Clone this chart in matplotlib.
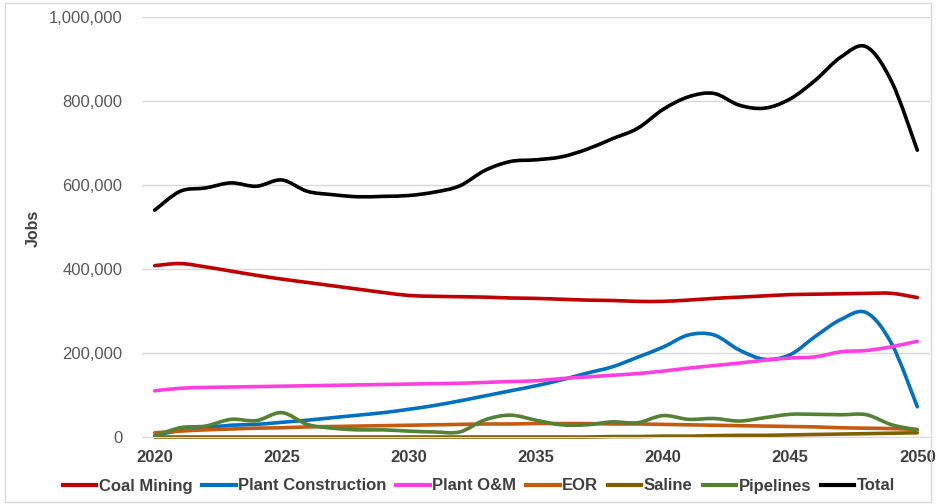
import matplotlib
matplotlib.use("Agg")
import matplotlib.pyplot as plt
from matplotlib.path import Path
from matplotlib.patches import PathPatch
from matplotlib.lines import Line2D
from matplotlib.ticker import FuncFormatter

years = list(range(2020, 2051))

# thousands of jobs
coal_mining = [408, 413, 405, 395, 385, 376, 368, 360, 352, 344, 337, 335, 334, 333, 331, 330,
               328, 326, 325, 323, 323, 326, 330, 333, 336, 339, 340, 341, 342, 342, 332]
plant_construction = [3, 16, 22, 28, 30, 35, 40, 46, 52, 58, 66, 75, 86, 98, 110, 122,
                      136, 152, 167, 190, 214, 243, 243, 207, 185, 196, 240, 280, 296, 221, 72]
plant_om = [110, 116, 118, 119, 120, 121, 122, 123, 124, 125, 126, 127, 128, 130, 132, 134,
            139, 143, 147, 151, 157, 164, 170, 176, 183, 188, 191, 203, 206, 215, 228]
eor = [10, 14, 17, 19, 21, 22, 24, 25, 26, 27, 28, 29, 30, 31, 31, 32,
       32, 32, 31, 31, 30, 29, 28, 27, 26, 25, 24, 22, 21, 20, 18]
saline = [0, 0, 0, 0, 0, 0, 0, 0, 0, 0, 0, 0, 0, 0, 0, 0,
          0, 0, 1, 1, 2, 2, 3, 4, 4, 5, 6, 7, 8, 9, 10]
pipelines = [2, 22, 26, 42, 39, 58, 30, 21, 17, 17, 14, 12, 12, 41, 52, 40,
             29, 29, 36, 34, 51, 42, 44, 38, 46, 54, 54, 53, 53, 29, 17]
total = [540, 585, 593, 605, 597, 612, 585, 577, 572, 573, 575, 583, 598, 635, 656, 660,
         667, 685, 710, 735, 780, 810, 818, 790, 783, 805, 850, 905, 929, 845, 683]

series = [
    ("Coal Mining", coal_mining, "#C00000"),
    ("Plant Construction", plant_construction, "#0070C0"),
    ("Plant O&M", plant_om, "#FF3FDF"),
    ("EOR", eor, "#C55A11"),
    ("Saline", saline, "#7F6000"),
    ("Pipelines", pipelines, "#548235"),
    ("Total", total, "#000000"),
]

font = ["Liberation Sans", "DejaVu Sans"]
LW = 2.6


def smooth_path(xs, ys):
    # Excel-style smoothed line: cubic Bezier segments through every data point
    n = len(xs)
    verts = [(xs[0], ys[0])]
    codes = [Path.MOVETO]
    for i in range(n - 1):
        x0, y0 = xs[max(i - 1, 0)], ys[max(i - 1, 0)]
        x1, y1 = xs[i], ys[i]
        x2, y2 = xs[i + 1], ys[i + 1]
        x3, y3 = xs[min(i + 2, n - 1)], ys[min(i + 2, n - 1)]
        verts += [(x1 + (x2 - x0) / 6, y1 + (y2 - y0) / 6),
                  (x2 - (x3 - x1) / 6, y2 - (y3 - y1) / 6),
                  (x2, y2)]
        codes += [Path.CURVE4] * 3
    return Path(verts, codes)


fig = plt.figure(figsize=(9.36, 5.04), dpi=100)
ax = fig.add_axes([142 / 936, 1 - 437 / 504, (930 - 142) / 936, (437 - 17) / 504])

handles = []
for name, vals, color in series:
    path = smooth_path(years, [v * 1000 for v in vals])
    ax.add_patch(PathPatch(path, fill=False, ec=color, lw=LW, joinstyle="round",
                           capstyle="round", clip_on=False))
    handles.append(Line2D([], [], color=color, lw=3, label=name))

ax.set_xlim(2019.5, 2050.5)
ax.set_ylim(0, 1000000)
ax.set_xticks(range(2020, 2051, 5))
ax.set_yticks(range(0, 1000001, 200000))
ax.yaxis.set_major_formatter(FuncFormatter(lambda v, p: f"{int(v):,}"))
ax.grid(axis="y", color="#D9D9D9", lw=1)
ax.set_axisbelow(True)
for s in ax.spines.values():
    s.set_visible(False)
ax.spines["bottom"].set_visible(True)
ax.spines["bottom"].set_color("#D9D9D9")
ax.tick_params(length=0)
ax.tick_params(axis="y", labelsize=12, labelcolor="#595959", pad=14)
ax.tick_params(axis="x", pad=9)
for lbl in ax.get_yticklabels():
    lbl.set_family(font)
for lbl in ax.get_xticklabels():
    lbl.set_family(font)
    lbl.set_fontweight("bold")
    lbl.set_fontsize(12)
    lbl.set_color("#404040")

fig.text(33 / 936, 1 - 228 / 504, "Jobs", rotation=90, ha="center", va="center",
         fontsize=11.5, fontweight="bold", color="#404040", family=font)

leg = fig.legend(handles=handles, loc="center", bbox_to_anchor=(479 / 936, 1 - 486 / 504),
                 ncol=7, frameon=False, handlelength=2.0, handletextpad=0.15,
                 columnspacing=0.6, prop={"family": font, "weight": "bold", "size": 12})
for t in leg.get_texts():
    t.set_color("#404040")

# light chart border
fig.patches.append(plt.Rectangle((0.005, 0.004), 0.99, 0.99, transform=fig.transFigure,
                                 fill=False, ec="#D9D9D9", lw=1))

fig.savefig("out.png", dpi=100)
